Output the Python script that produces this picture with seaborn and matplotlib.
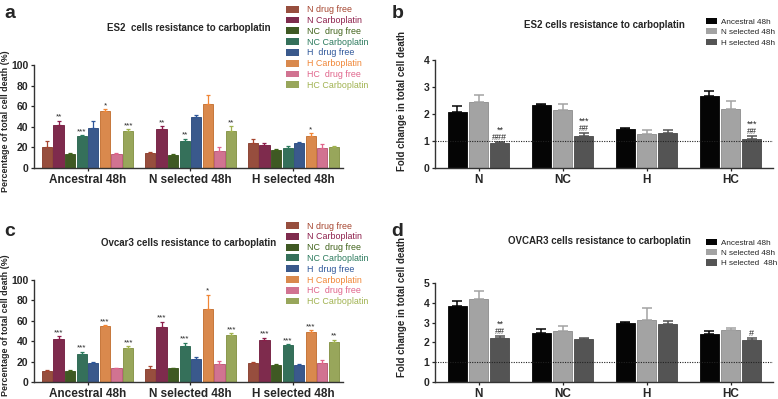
import numpy as np
import pandas as pd
import matplotlib
matplotlib.use("Agg")
import matplotlib.pyplot as plt
import seaborn as sns

# ---- data ----
groups = ["Ancestral 48h", "N selected 48h", "H selected 48h"]
treatments = ["N drug free", "N Carboplatin", "NC  drug free", "NC Carboplatin",
              "H  drug free", "H Carboplatin", "HC  drug free", "HC Carboplatin"]
treat_colors = ["#a6452f", "#8c1d4a", "#40621a", "#2b7a5d",
                "#2d5699", "#f08636", "#e0648b", "#a0b24f"]

es2_ancestral = [20.5, 42.0, 13.5, 31.0, 38.5, 55.0, 13.5, 35.5]
es2_ancestral_err = [6.0, 4.0, 1.0, 0.8, 7.0, 2.0, 1.0, 2.0]
es2_nsel = [15.0, 37.5, 12.5, 26.0, 50.0, 62.5, 16.5, 36.0]
es2_nsel_err = [0.5, 3.0, 1.0, 2.5, 1.0, 8.5, 4.0, 4.5]
es2_hsel = [24.5, 22.5, 17.0, 19.5, 24.0, 31.5, 19.0, 20.0]
es2_hsel_err = [4.0, 1.5, 1.5, 2.0, 1.0, 2.5, 4.5, 1.5]
es2_stars = [["", "**", "", "***", "", "*", "", "***"],
             ["", "**", "", "**", "", "", "", "**"],
             ["", "", "", "", "", "*", "", ""]]

ov_ancestral = [11.0, 42.0, 11.0, 27.0, 18.5, 54.5, 13.5, 33.0]
ov_ancestral_err = [1.0, 3.0, 0.5, 2.5, 1.0, 1.0, 0.2, 2.0]
ov_nsel = [13.0, 54.0, 13.5, 35.5, 23.0, 71.5, 18.0, 46.0]
ov_nsel_err = [2.5, 5.0, 0.5, 3.0, 1.5, 14.0, 3.0, 2.0]
ov_hsel = [19.0, 41.5, 17.0, 36.5, 16.5, 48.5, 19.0, 39.5]
ov_hsel_err = [0.3, 2.0, 0.3, 0.5, 1.5, 2.5, 3.0, 2.0]
ov_stars = [["", "***", "", "***", "", "***", "", "***"],
            ["", "***", "", "***", "", "*", "", "***"],
            ["", "***", "", "***", "", "***", "", "**"]]

conditions = ["N", "NC", "H", "HC"]
lines = ["Ancestral 48h", "N selected 48h", "H selected 48h"]
lines_d = ["Ancestral 48h", "N selected 48h", "H selected  48h"]
line_colors = ["#050505", "#a3a3a3", "#545454"]

es2_fold_anc = [2.08, 2.33, 1.45, 2.68]
es2_fold_anc_err = [0.2, 0.05, 0.04, 0.18]
es2_fold_nsel = [2.45, 2.13, 1.25, 2.2]
es2_fold_nsel_err = [0.25, 0.22, 0.17, 0.28]
es2_fold_hsel = [0.92, 1.18, 1.3, 1.07]
es2_fold_hsel_err = [0.05, 0.13, 0.1, 0.1]
es2_fold_marks = ["**\n###", "***\n##", "", "***\n##"]

ov_fold_anc = [3.82, 2.48, 3.0, 2.45]
ov_fold_anc_err = [0.28, 0.2, 0.03, 0.15]
ov_fold_nsel = [4.2, 2.58, 3.15, 2.62]
ov_fold_nsel_err = [0.4, 0.25, 0.6, 0.12]
ov_fold_hsel = [2.22, 2.15, 2.95, 2.12]
ov_fold_hsel_err = [0.1, 0.05, 0.12, 0.1]
ov_fold_marks = ["**\n##", "", "", "#"]

sns.set_style("ticks")
plt.rcParams["font.family"] = ["Liberation Sans", "DejaVu Sans"]


def darker(c, f=0.8):
    r, g, b = matplotlib.colors.to_rgb(c)
    return (r * f, g * f, b * f)


def long_frame(cats, hues, rows, errs, cat_name, hue_name):
    recs = []
    for ci, c in enumerate(cats):
        for hi, h in enumerate(hues):
            recs.append({cat_name: c, hue_name: h, "value": rows[ci][hi], "err": errs[ci][hi]})
    return pd.DataFrame(recs)


def add_errbars(ax, df, hues, hue_name, colors, marks, mark_size, lw=0.9, cap=18):
    # containers come one per hue level, bars ordered by category
    for hi, (cont, h) in enumerate(zip(ax.containers, hues)):
        sub = df[df[hue_name] == h]
        for ci, bar in enumerate(cont):
            x = bar.get_x() + bar.get_width() / 2
            top = bar.get_height()
            e = sub["err"].iloc[ci]
            ax.errorbar(x, top, yerr=[[0], [e]], fmt="none", ecolor=colors[hi],
                        elinewidth=lw, capsize=bar.get_width() * cap, capthick=lw, zorder=3)
            m = marks[ci][hi]
            if m:
                ax.text(x, top + e, m, ha="center", va="bottom", fontsize=mark_size,
                        linespacing=0.75)


def style_axes(ax, ylim, yticks):
    sns.despine(ax=ax)
    ax.set_ylim(*ylim)
    ax.set_yticks(yticks)
    ax.set_xlabel("")
    for lab in ax.get_yticklabels():
        lab.set_fontweight("bold")
        lab.set_fontsize(7.5)
    for lab in ax.get_xticklabels():
        lab.set_fontweight("bold")
        lab.set_fontsize(8.5)
    ax.tick_params(axis="both", length=2.5, width=0.9, pad=1.5)
    for s in ("left", "bottom"):
        ax.spines[s].set_linewidth(1.0)
        ax.spines[s].set_color("#333333")


fig = plt.figure(figsize=(7.78, 3.99), dpi=100)

# ---- percentage panels (a, c) ----
pct_panels = [
    ([0.0437, 0.579, 0.397, 0.258], "ES2  cells resistance to carboplatin",
     [es2_ancestral, es2_nsel, es2_hsel], [es2_ancestral_err, es2_nsel_err, es2_hsel_err], es2_stars, 1.58, 0.45),
    ([0.0437, 0.0426, 0.397, 0.256], "Ovcar3 cells resistance to carboplatin",
     [ov_ancestral, ov_nsel, ov_hsel], [ov_ancestral_err, ov_nsel_err, ov_hsel_err], ov_stars, 1.57, 0.56),
]
for rect, title, rows, errs, stars, legy, ly in pct_panels:
    ax = fig.add_axes(rect)
    df = long_frame(groups, treatments, rows, errs, "group", "treatment")
    sns.barplot(data=df, x="group", y="value", hue="treatment", palette=treat_colors,
                order=groups, hue_order=treatments, errorbar=None, width=0.9, gap=0.12,
                linewidth=0.6, edgecolor="none", ax=ax, zorder=2)
    for cont, c in zip(ax.containers, treat_colors):
        for bar in cont:
            bar.set_edgecolor(darker(c))
    add_errbars(ax, df, treatments, "treatment", treat_colors, stars, 5.8)
    ax.set_xlim(-0.52, 2.48)
    style_axes(ax, (0, 100), [0, 20, 40, 60, 80, 100])
    ax.set_ylabel("Percentage of total cell death (%)", fontsize=6.4, fontweight="bold")
    ax.yaxis.set_label_coords(-0.077, ly)
    ax.text(0.5, 1.36, title, transform=ax.transAxes, ha="center", va="center",
            fontsize=7, fontweight="bold")
    leg = ax.legend(loc="upper left", bbox_to_anchor=(0.815, legy), frameon=False, fontsize=6.4,
                    handlelength=1.5, handleheight=0.8, labelspacing=0.2, handletextpad=0.9,
                    borderaxespad=0, borderpad=0)
    for txt, c in zip(leg.get_texts(), treat_colors):
        txt.set_color(c)

# ---- fold change panels (b, d) ----
fold_panels = [
    ([0.559, 0.579, 0.435, 0.271], "ES2 cells resistance to carboplatin", lines,
     [es2_fold_anc, es2_fold_nsel, es2_fold_hsel], [es2_fold_anc_err, es2_fold_nsel_err, es2_fold_hsel_err],
     es2_fold_marks, (0, 4), [0, 1, 2, 3, 4], 1.39, 1.325, 0.5, 0.62),
    ([0.559, 0.0426, 0.435, 0.248], "OVCAR3 cells resistance to carboplatin", lines_d,
     [ov_fold_anc, ov_fold_nsel, ov_fold_hsel], [ov_fold_anc_err, ov_fold_nsel_err, ov_fold_hsel_err],
     ov_fold_marks, (0, 5), [0, 1, 2, 3, 4, 5], 1.45, 1.43, 0.485, 0.76),
]
for rect, title, hues, vals, errs, marks, ylim, yt, legy, ty, tx, ly in fold_panels:
    ax = fig.add_axes(rect)
    rows = [list(r) for r in zip(*vals)]
    erows = [list(r) for r in zip(*errs)]
    df = long_frame(conditions, hues, rows, erows, "cond", "line")
    sns.barplot(data=df, x="cond", y="value", hue="line", palette=line_colors,
                order=conditions, hue_order=hues, errorbar=None, width=0.76, gap=0.12,
                linewidth=0.6, edgecolor="none", ax=ax, zorder=2)
    for cont, c in zip(ax.containers, line_colors):
        for bar in cont:
            bar.set_edgecolor(darker(c, 0.85))
    allmarks = [["", "", m] for m in marks]
    add_errbars(ax, df, hues, "line", line_colors, allmarks, 6.5, lw=1.1, cap=15)
    ax.axhline(1, color="#222222", ls=(0, (1, 1.2)), lw=0.8, zorder=4)
    ax.set_xlim(-0.52, 3.51)
    style_axes(ax, ylim, yt)
    ax.set_ylabel("Fold change in total cell death", fontsize=7, fontweight="bold")
    ax.yaxis.set_label_coords(-0.083, ly)
    ax.text(tx, ty, title, transform=ax.transAxes, ha="center", va="center",
            fontsize=7, fontweight="bold")
    ax.legend(loc="upper left", bbox_to_anchor=(0.80, legy), frameon=False, fontsize=5.9,
              handlelength=1.4, handleheight=0.8, labelspacing=0.3, handletextpad=0.5,
              borderaxespad=0, borderpad=0)

for x, y, lab in [(0.006, 0.965, "a"), (0.503, 0.965, "b"), (0.006, 0.42, "c"), (0.503, 0.42, "d")]:
    fig.text(x, y, lab, fontsize=14, fontweight="bold", va="center", ha="left")

fig.savefig("out.png", dpi=100)
